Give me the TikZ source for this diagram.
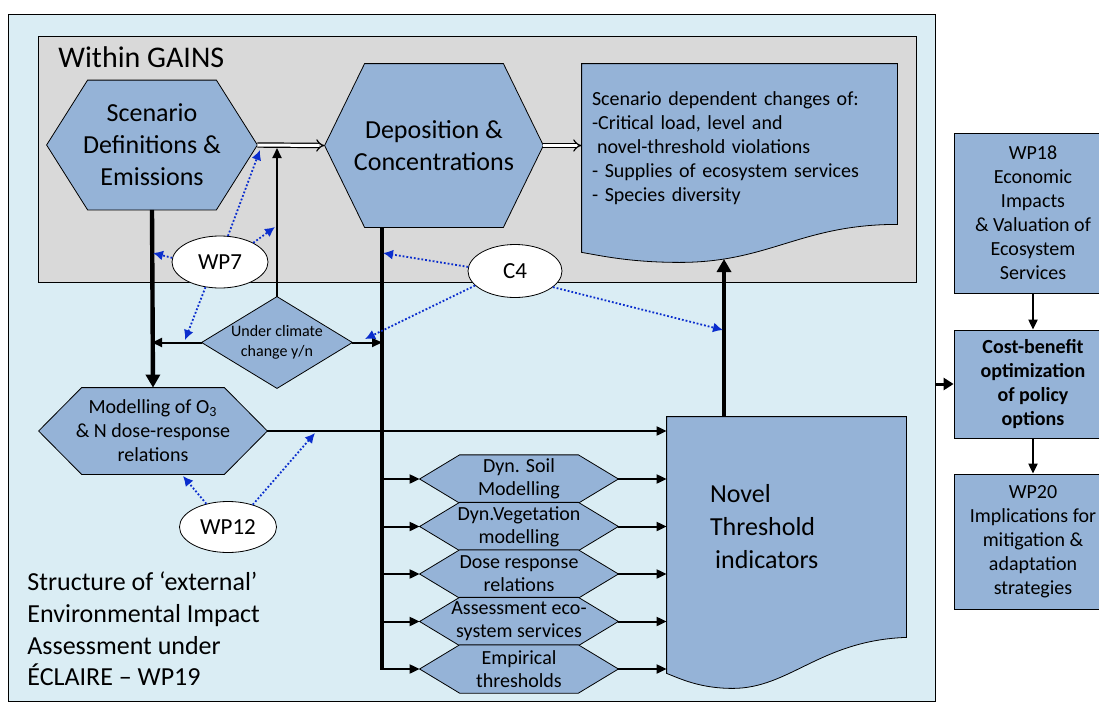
\documentclass[tikz,border=0pt]{standalone}
\usepackage{fontspec}
\setmainfont{Carlito}
\usetikzlibrary{arrows.meta,positioning,calc,shapes.geometric}
\tikzset{every picture/.style={line width=0.75pt}}
\definecolor{bgblue}{RGB}{218,237,244}
\definecolor{gainsgrey}{RGB}{217,217,217}
\definecolor{boxblue}{RGB}{149,179,215}
\definecolor{dotblue}{RGB}{10,45,205}
\pgfdeclarelayer{back}
\pgfdeclarelayer{shapes}
\pgfsetlayers{back,shapes,main}
\newcommand{\hexa}[2]{\draw[outline] (#1.west) -- ([xshift=#2]#1.north west) -- ([xshift=-#2]#1.north east) -- (#1.east) -- ([xshift=-#2]#1.south east) -- ([xshift=#2]#1.south west) -- cycle;}

\begin{document}
\begin{tikzpicture}[x=0.5pt,y=-0.5pt,
    outline/.style={draw=black,fill=boxblue},
    blank/.style={inner sep=0pt,align=center},
    smallhex/.style={blank,minimum width=99pt,minimum height=23.75pt,font=\fontsize{10}{11.5}\selectfont},
    sidebox/.style={draw,fill=boxblue,inner sep=0pt,align=center,minimum width=79pt,font=\fontsize{10}{12}\selectfont},
    oval/.style={ellipse,draw,fill=white,inner sep=0pt,font=\fontsize{11.5}{14}\selectfont},
    thinarr/.style={line width=1pt,-{Triangle[length=5pt,width=4.5pt]}},
    thickarr/.style={line width=2.2pt,-{Triangle[length=6.5pt,width=7pt]}},
    dblarr/.style={double,double distance=1.5pt,line width=0.6pt,-{Implies}},
    dotarr/.style={dotblue,densely dotted,line width=0.9pt,-{Latex[length=5pt,width=5pt]}}]
    \useasboundingbox (0,0) rectangle (1099,702);
    \clip (0,0) rectangle (1099,702);
    \begin{pgfonlayer}{back}
        \fill[white] (0,0) rectangle (1099,702);
        \node[draw,fill=bgblue,minimum width=463.5pt,minimum height=343.5pt] (eia) at (471.5,357.5) {};
        \node[draw,fill=gainsgrey,minimum width=439pt,minimum height=123pt] (gains) at (477,159) {};
    \end{pgfonlayer}
    \node[anchor=west,inner sep=0pt,font=\fontsize{15}{18}\selectfont] (gainstitle) at (58,57) {Within GAINS};
    \node[blank,minimum width=105pt,minimum height=64.5pt,font=\fontsize{13}{16}\selectfont] (scen) at (152,145) {Scenario\\Definitions \&\\Emissions};
    \node[blank,minimum width=109pt,minimum height=81.5pt,font=\fontsize{13}{16}\selectfont] (dep) at (434,145.5) {Deposition \&\\Concentrations};
    \node[blank,align=left,text width=147.5pt,minimum width=157.5pt,minimum height=84pt,font=\fontsize{10}{12}\selectfont] (doc) at (739.5,148) {Scenario dependent changes of:\\-Critical load, level and\\\hspace*{0.25em}novel-threshold violations\\- Supplies of ecosystem services\\- Species diversity};
    \node[blank,minimum width=114pt,minimum height=43pt,font=\fontsize{10}{12}\selectfont] (model) at (153,431) {Modelling of O\textsubscript{3}\\\& N dose-response\\relations};
    \node[blank,minimum width=75pt,minimum height=45.5pt,font=\fontsize{8}{10}\selectfont] (climate) at (277,342.5) {Under climate\\change y/n};
    \foreach \n/\y/\txt in {soil/479/{Dyn. Soil\\Modelling},veg/526.5/{Dyn.Vegetation\\modelling},dose/574/{Dose response\\relations},eco/621.5/{Assessment eco-\\system services},emp/669/{Empirical\\thresholds}}
        \node[smallhex] (\n) at (519,\y) {\txt};
    \node[blank,align=left,text width=76.5pt,minimum width=119.5pt,minimum height=110pt,font=\fontsize{13}{16.5}\selectfont] (novel) at (786.5,527) {Novel\\Threshold\\\hspace*{0.2em}indicators};
    \node[oval,minimum width=48pt,minimum height=26pt] (wp7) at (220,262) {WP7};
    \node[oval,minimum width=47pt,minimum height=26.5pt] (c4) at (515,271) {C4};
    \node[oval,minimum width=48.5pt,minimum height=25.5pt] (wp12) at (228,527) {WP12};
    \node[sidebox,minimum height=80pt] (wp18) at (1033,213) {WP18\\Economic\\Impacts\\\& Valuation of\\Ecosystem\\Services};
    \node[sidebox,minimum height=54pt,font=\fontsize{10}{12}\selectfont\bfseries] (cost) at (1033,384) {Cost-benefit\\optimization\\of policy\\options};
    \node[sidebox,minimum height=67.5pt] (wp20) at (1033,541.5) {WP20\\Implications for\\mitigation \&\\adaptation\\strategies};
    \node[anchor=west,inner sep=0pt,align=left,font=\fontsize{13}{15.8}\selectfont] (caption) at (27,629) {Structure of ‘external’\\Environmental Impact\\Assessment under\\ÉCLAIRE – WP19};
    \begin{pgfonlayer}{shapes}
        \hexa{scen}{20.5pt}
        \hexa{dep}{20pt}
        \hexa{model}{21.5pt}
        \foreach \n in {soil,veg,dose,eco,emp} {\hexa{\n}{20pt}}
        \draw[outline] (climate.north) -- (climate.east) -- (climate.south) -- (climate.west) -- cycle;
        \draw[outline] (doc.north west) -- (doc.north east) -- ([yshift=4pt]doc.south east) .. controls +(-97,0) and +(90,0) .. ([xshift=49pt,yshift=-15pt]doc.south west) .. controls +(-50,0) and +(18,3) .. ([yshift=-10pt]doc.south west) -- cycle;
        \draw[outline] (novel.north west) -- (novel.north east) -- (novel.south east) .. controls +(-86,3) and +(57,0) .. ([xshift=33pt,yshift=-25.5pt]novel.south west) .. controls +(-33,0) and +(13,5) .. ([yshift=-18pt]novel.south west) -- cycle;
    \end{pgfonlayer}
    \draw[dblarr] (scen.east) -- (dep.west);
    \draw[dblarr] (dep.east) -- (dep.east -| doc.west);
    \draw[thickarr] (scen.south) -- (model.north);
    \coordinate (trunk) at ([xshift=-26pt]dep.south);
    \draw[line width=2.2pt] (trunk) -- ([yshift=-0.5pt]trunk |- emp.west);
    \foreach \n in {soil,veg,dose,eco,emp} {
        \draw[thinarr] (trunk |- \n.west) -- (\n.west);
        \draw[thinarr] (\n.east) -- (\n.east -| novel.west);
    }
    \draw[thinarr] (model.east) -- (model.east -| novel.west);
    \draw[thinarr] (climate.north) -- ($(climate.north |- scen.east)+(0,3)$);
    \draw[thinarr] (climate.west) -- (climate.west -| scen.south);
    \draw[thinarr] (climate.east) -- (climate.east -| trunk);
    \coordinate (docbot) at (724,259);
    \draw[thickarr] (novel.north -| docbot) -- (docbot);
    \draw[line width=1.5pt,-{Triangle[length=5pt,width=6pt]}] (eia.east |- cost.west) -- (cost.west);
    \draw[thinarr] (wp18) -- (cost);
    \draw[thinarr] (cost) -- (wp20);
    \coordinate (wp7a) at (260,150);
    \coordinate (wp7b) at (275,227);
    \coordinate (wp7c) at (153,253);
    \coordinate (wp7d) at (185,340);
    \coordinate (c4a) at (383,253);
    \coordinate (c4b) at (365,339);
    \coordinate (c4c) at (723,330);
    \coordinate (wp12a) at (183,476);
    \coordinate (wp12b) at (315,433);
    \draw[dotarr] (wp7.73) -- (wp7a);
    \draw[dotarr] (wp7.30) -- (wp7b);
    \draw[dotarr] (wp7.175) -- (wp7c);
    \draw[dotarr] (wp7.240) -- (wp7d);
    \draw[dotarr] (c4.175) -- (c4a);
    \draw[dotarr] (c4.200) -- (c4b);
    \draw[dotarr] (c4.337) -- (c4c);
    \draw[dotarr] (wp12.133) -- (wp12a);
    \draw[dotarr] (wp12.42) -- (wp12b);
\end{tikzpicture}
\end{document}
